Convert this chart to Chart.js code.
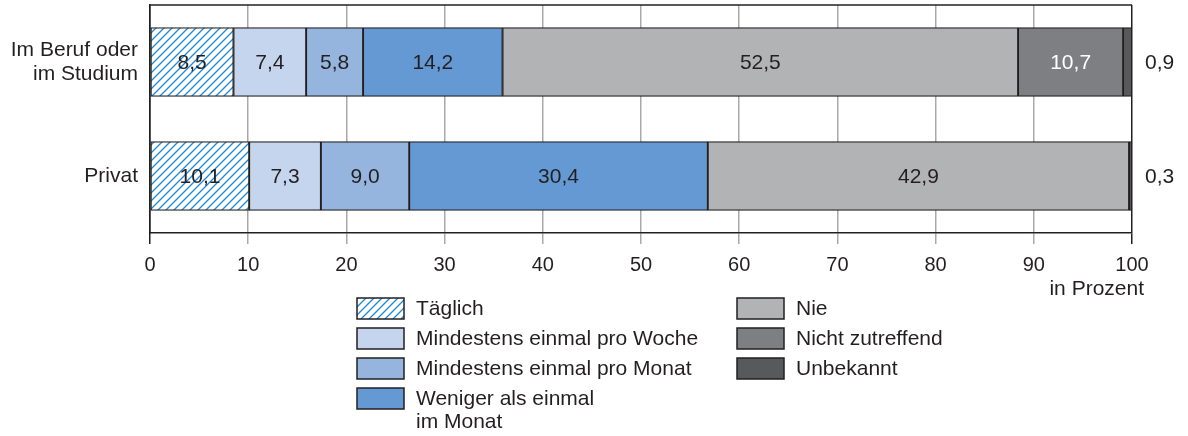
<!DOCTYPE html>
<html lang="de">
<head>
<meta charset="utf-8">
<script src="https://cdn.jsdelivr.net/npm/chart.js@4/dist/chart.umd.min.js"></script>
<style>
  html, body { margin: 0; padding: 0; background: #ffffff; }
  #wrap { width: 1188px; height: 436px; position: relative; }
</style>
</head>
<body>
<div id="wrap"><canvas id="chart" width="1188" height="436"></canvas></div>
<script>
// Nutzung nach Kontext, Anteile in Prozent
const categories = [["Im Beruf oder", "im Studium"], "Privat"];
const seriesNames = [
  "Täglich",
  "Mindestens einmal pro Woche",
  "Mindestens einmal pro Monat",
  "Weniger als einmal im Monat",
  "Nie",
  "Nicht zutreffend",
  "Unbekannt"
];
const taeglich        = [8.5, 10.1];
const proWoche        = [7.4, 7.3];
const proMonat        = [5.8, 9.0];
const wenigerAlsMonat = [14.2, 30.4];
const nie             = [52.5, 42.9];
const nichtZutreffend = [10.7, 0];
const unbekannt       = [0.9, 0.3];
const xTicks = [0, 10, 20, 30, 40, 50, 60, 70, 80, 90, 100];

// Legend lines (the long entry wraps onto two lines)
const legendLines = [
  ["Täglich"],
  ["Mindestens einmal pro Woche"],
  ["Mindestens einmal pro Monat"],
  ["Weniger als einmal", "im Monat"],
  ["Nie"],
  ["Nicht zutreffend"],
  ["Unbekannt"]
];

const FONT = "'Liberation Sans', Arial, Helvetica, sans-serif";
const INK = "#231f20";
const GRID = "#a7a9ac";

// diagonal blue hatching for "Täglich"
function makeHatch() {
  const s = 8;
  const c = document.createElement("canvas");
  c.width = s; c.height = s;
  const g = c.getContext("2d");
  g.fillStyle = "#ffffff";
  g.fillRect(0, 0, s, s);
  g.strokeStyle = "#1e8ad6";
  g.lineWidth = 1.3;
  g.beginPath();
  g.moveTo(-1, s + 1); g.lineTo(s + 1, -1);
  g.moveTo(-1, 1); g.lineTo(1, -1);
  g.moveTo(s - 1, s + 1); g.lineTo(s + 1, s - 1);
  g.stroke();
  return document.getElementById("chart").getContext("2d").createPattern(c, "repeat");
}

const fills = [
  makeHatch(),
  "#c6d5ee",
  "#95b5df",
  "#6599d3",
  "#b2b3b5",
  "#7e7f82",
  "#58595b"
];
const labelColors = [INK, INK, INK, INK, INK, "#ffffff", INK];
const seriesData = [taeglich, proWoche, proMonat, wenigerAlsMonat, nie, nichtZutreffend, unbekannt];

const fmt = v => v.toFixed(1).replace(".", ",");

// value labels inside the segments; the last series is labelled to the right of the plot
const valueLabels = {
  id: "valueLabels",
  afterDatasetsDraw(chart) {
    const ctx = chart.ctx;
    const area = chart.chartArea;
    ctx.save();
    ctx.font = "21px " + FONT;
    ctx.textBaseline = "middle";
    chart.data.datasets.forEach((ds, i) => {
      const meta = chart.getDatasetMeta(i);
      meta.data.forEach((bar, j) => {
        const v = ds.data[j];
        if (!v) return;
        if (i === chart.data.datasets.length - 1) {
          ctx.fillStyle = INK;
          ctx.textAlign = "left";
          ctx.fillText(fmt(v), area.right + 13, bar.y + 1);
        } else {
          ctx.fillStyle = labelColors[i];
          ctx.textAlign = "center";
          ctx.fillText(fmt(v), (bar.x + bar.base) / 2, bar.y + 1);
        }
      });
    });
    ctx.restore();
  }
};

// frame top line, axis caption and two-column legend
const decorations = {
  id: "decorations",
  beforeDatasetsDraw(chart) {
    const ctx = chart.ctx;
    const a = chart.chartArea;
    ctx.save();
    ctx.strokeStyle = INK;
    ctx.lineWidth = 1.5;
    ctx.beginPath();
    ctx.moveTo(a.left, a.top);
    ctx.lineTo(a.right, a.top);
    ctx.stroke();
    ctx.restore();
  },
  afterDraw(chart) {
    const ctx = chart.ctx;
    const a = chart.chartArea;
    ctx.save();
    ctx.font = "21px " + FONT;
    ctx.fillStyle = INK;
    ctx.textAlign = "right";
    ctx.textBaseline = "middle";
    ctx.fillText("in Prozent", a.right + 12, 289);

    const cols = [{ x: 357, items: [0, 1, 2, 3] }, { x: 737, items: [4, 5, 6] }];
    const top = 298, step = 30, bw = 47, bh = 21;
    ctx.textAlign = "left";
    cols.forEach(col => {
      col.items.forEach((idx, r) => {
        const y = top + r * step;
        ctx.fillStyle = chart.data.datasets[idx].backgroundColor;
        ctx.fillRect(col.x, y, bw, bh);
        ctx.strokeStyle = INK;
        ctx.lineWidth = 1.5;
        ctx.strokeRect(col.x, y, bw, bh);
        ctx.fillStyle = INK;
        legendLines[idx].forEach((line, k) => {
          ctx.fillText(line, col.x + bw + 12, y + bh / 2 + 1 + k * 23);
        });
      });
    });
    ctx.restore();
  }
};

const datasets = seriesNames.map((name, i) => ({
  label: name,
  data: seriesData[i],
  backgroundColor: fills[i],
  borderColor: INK,
  borderWidth: 1.3,
  borderSkipped: false,
  barThickness: 69
}));

new Chart(document.getElementById("chart"), {
  type: "bar",
  data: { labels: categories, datasets },
  plugins: [valueLabels, decorations],
  options: {
    indexAxis: "y",
    responsive: false,
    animation: false,
    events: [],
    layout: { padding: { left: 0, right: 56, top: 5, bottom: 0 } },
    plugins: { legend: { display: false }, tooltip: { enabled: false } },
    scales: {
      x: {
        stacked: true,
        min: 0,
        max: 100,
        afterBuildTicks: s => { s.ticks = xTicks.map(v => ({ value: v })); },
        afterFit: s => { s.height = 436 - 233; s.paddingLeft = 0; s.paddingRight = 0; },
        ticks: {
          font: { family: FONT, size: 20 },
          color: INK,
          padding: 9,
          maxRotation: 0,
          callback: v => String(v)
        },
        grid: {
          color: c => (c.tick && (c.tick.value === 0 || c.tick.value === 100)) ? INK : GRID,
          lineWidth: 1.5,
          tickLength: 11,
          drawTicks: true
        },
        border: { display: true, color: INK, width: 1.5 }
      },
      y: {
        stacked: true,
        afterFit: s => { s.width = 150; s.paddingTop = 0; s.paddingBottom = 0; },
        ticks: {
          font: { family: FONT, size: 21, lineHeight: 1.12 },
          color: INK,
          padding: 12
        },
        grid: { display: false, drawTicks: false },
        border: { display: true, color: INK, width: 1.5 }
      }
    }
  }
});
</script>
</body>
</html>
